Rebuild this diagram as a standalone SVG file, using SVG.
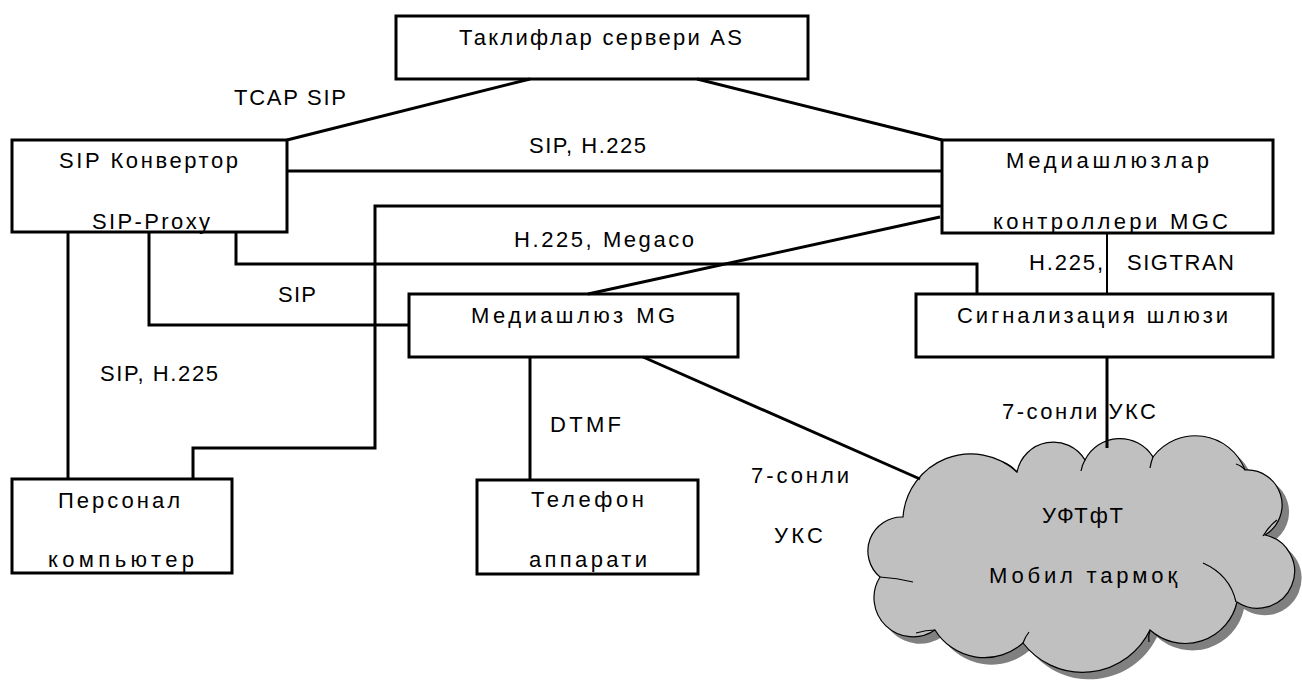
<svg xmlns="http://www.w3.org/2000/svg" width="1302" height="687" viewBox="0 0 1302 687">
<defs>
<style>
.box{fill:#ffffff;stroke:#000000;stroke-width:3}
.t{font-family:"Liberation Sans",Arial,sans-serif;font-size:22px;fill:#000000}
.c{fill:none;stroke:#000000;stroke-width:3}
.thin{fill:none;stroke:#000000;stroke-width:2}
.curl{fill:none;stroke:#000000;stroke-width:1.2}
</style>
<path id="cloudShape" d="M 903,517 A 68 68 0 0 1 1017,472 A 37 37 0 0 1 1085,460 A 39 39 0 0 1 1153,457 A 53 53 0 0 1 1245,470 A 35 35 0 0 1 1265,535 A 37 37 0 1 1 1237,602 A 53 53 0 0 1 1150,630 A 75 75 0 0 1 1023,643 A 58 58 0 0 1 935,630 A 39 39 0 0 1 880,577 A 34 34 0 0 1 903,517 Z"/>
</defs>
<rect width="1302" height="687" fill="#ffffff"/>

<g id="node-as">
<rect class="box" x="396" y="16" width="412" height="63"/>
<text class="t" x="459" y="45" textLength="283" lengthAdjust="spacing">Таклифлар сервери AS</text>
</g>

<g id="node-sip">
<text class="t" x="59" y="168" textLength="179" lengthAdjust="spacing">SIP Конвертор</text>
<text class="t" x="92" y="229" textLength="118" lengthAdjust="spacing">SIP-Proxy</text>
<rect class="box" x="12" y="140" width="275" height="92" style="fill:none"/>
</g>

<g id="node-mgc">
<text class="t" x="1006" y="168" textLength="203" lengthAdjust="spacing">Медиашлюзлар</text>
<text class="t" x="993" y="229" textLength="235" lengthAdjust="spacing">контроллери MGC</text>
<rect class="box" x="942" y="140" width="331" height="93" style="fill:none"/>
</g>

<g id="node-mg">
<rect class="box" x="409" y="294" width="329" height="63"/>
<text class="t" x="471" y="323" textLength="204" lengthAdjust="spacing">Медиашлюз MG</text>
</g>

<g id="node-sg">
<rect class="box" x="916" y="294" width="357" height="63"/>
<text class="t" x="957" y="323" textLength="271" lengthAdjust="spacing">Сигнализация шлюзи</text>
</g>

<g id="node-pc">
<text class="t" x="58" y="508" textLength="122" lengthAdjust="spacing">Персонал</text>
<text class="t" x="48" y="567" textLength="146" lengthAdjust="spacing">компьютер</text>
<rect class="box" x="12" y="479" width="220" height="94" style="fill:none"/>
</g>

<g id="node-phone">
<text class="t" x="531" y="507" textLength="113" lengthAdjust="spacing">Телефон</text>
<text class="t" x="529" y="567" textLength="118" lengthAdjust="spacing">аппарати</text>
<rect class="box" x="477" y="480" width="221" height="94" style="fill:none"/>
</g>

<g id="node-cloud">
<use href="#cloudShape" transform="translate(7,7)" fill="#808080" stroke="none"/>
<use href="#cloudShape" fill="#c0c0c0" stroke="#000000" stroke-width="1.2"/>
<path class="curl" d="M 1003,462 Q 1011,465 1017,472"/>
<path class="curl" d="M 1085,460 Q 1082,465 1081,471"/>
<path class="curl" d="M 1153,457 Q 1151,462 1150,468"/>
<path class="curl" d="M 1245,470 Q 1242,466 1236,464"/>
<path class="curl" d="M 1263,536 Q 1269,526 1277,520"/>
<path class="curl" d="M 1203,563 Q 1230,575 1236,602"/>
<path class="curl" d="M 1150,630 Q 1148,636 1149,642"/>
<path class="curl" d="M 1023,643 Q 1025,637 1029,632"/>
<path class="curl" d="M 935,630 Q 926,630 916,633"/>
<path class="curl" d="M 880,577 Q 897,578 913,582"/>
<text class="t" x="1042" y="523" textLength="81" lengthAdjust="spacing">УФТфТ</text>
<text class="t" x="989" y="583" textLength="188" lengthAdjust="spacing">Мобил тармоқ</text>
</g>

<g id="connectors">
<polyline class="c" points="287,140 530,79"/>
<polyline class="c" points="697,79 942,140"/>
<polyline class="c" points="287,171 942,171"/>
<polyline class="c" points="942,206 375,206 375,448 193,448 193,479"/>
<polyline class="c" points="236,232 236,264 977,264 977,294"/>
<polyline class="c" points="940,217 588,294"/>
<polyline class="c" points="68,232 68,479"/>
<polyline class="c" points="149,232 149,325 409,325"/>
<polyline class="thin" points="1107,233 1107,294"/>
<polyline class="c" points="530,357 530,480"/>
<polyline class="c" points="643,357 920,479"/>
<polyline class="c" points="1107,357 1107,448"/>
</g>

<g id="labels">
<text class="t" x="234" y="105" textLength="112" lengthAdjust="spacing">TCAP SIP</text>
<text class="t" x="529" y="153" textLength="117" lengthAdjust="spacing">SIP, H.225</text>
<text class="t" x="514" y="247" textLength="180" lengthAdjust="spacing">H.225, Megaco</text>
<text class="t" x="1029" y="270" textLength="74" lengthAdjust="spacing">H.225,</text>
<text class="t" x="1127" y="270" textLength="107" lengthAdjust="spacing">SIGTRAN</text>
<text class="t" x="278" y="302" textLength="38" lengthAdjust="spacing">SIP</text>
<text class="t" x="100" y="381" textLength="118" lengthAdjust="spacing">SIP, H.225</text>
<text class="t" x="1002" y="419" textLength="154" lengthAdjust="spacing">7-сонли УКС</text>
<text class="t" x="550" y="432" textLength="71" lengthAdjust="spacing">DTMF</text>
<text class="t" x="751" y="483" textLength="98" lengthAdjust="spacing">7-сонли</text>
<text class="t" x="774" y="543" textLength="49" lengthAdjust="spacing">УКС</text>
</g>
</svg>
